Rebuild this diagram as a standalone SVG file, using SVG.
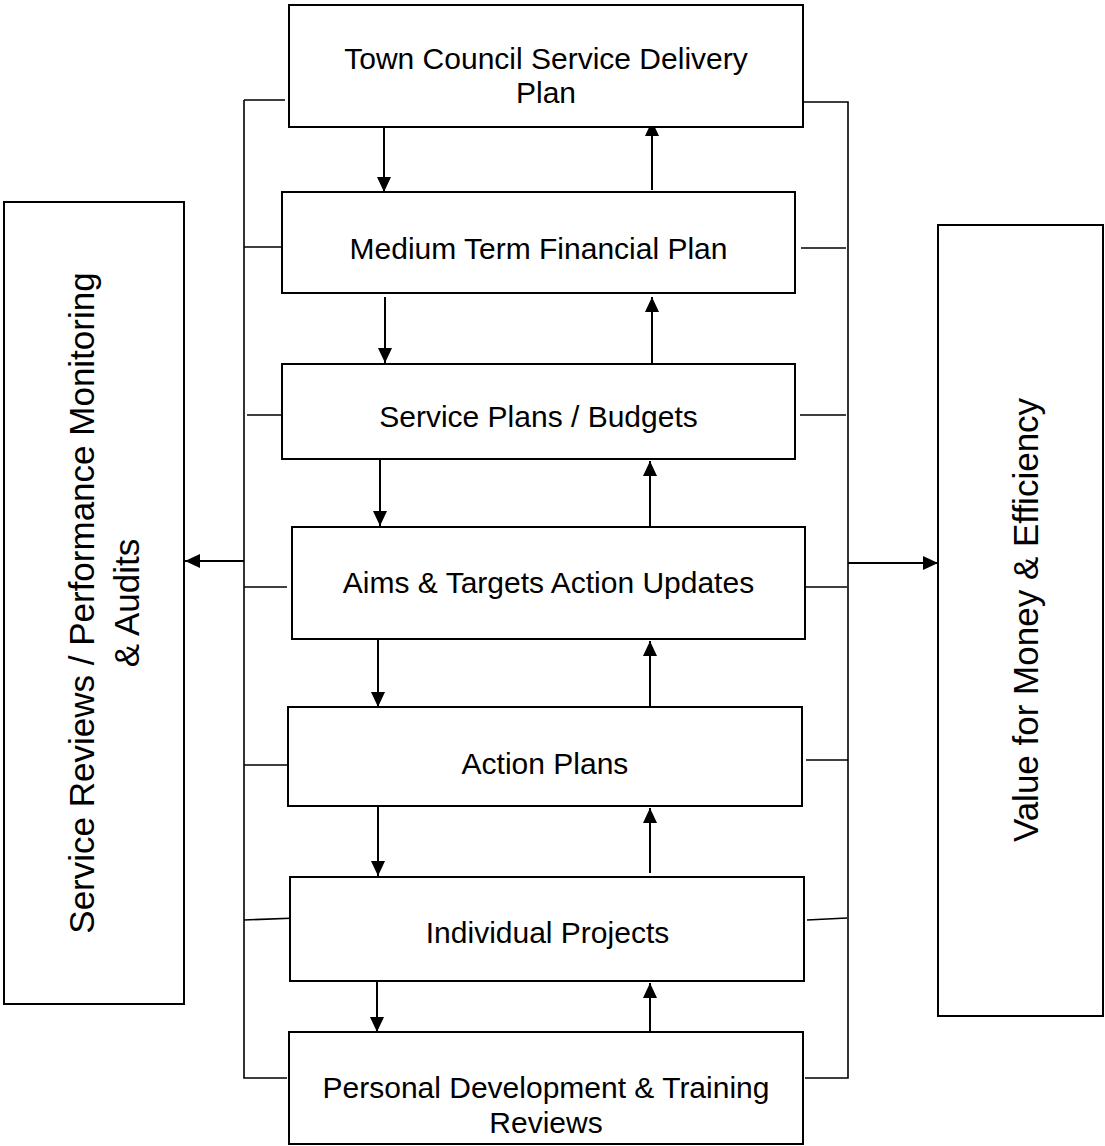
<svg xmlns="http://www.w3.org/2000/svg" width="1105" height="1146" viewBox="0 0 1105 1146">
<style>
.box{fill:#fff;stroke:#000;stroke-width:2}
.t{font-family:"Liberation Sans",Arial,sans-serif;font-size:30px;fill:#000;text-anchor:middle}
.s{font-family:"Liberation Sans",Arial,sans-serif;font-size:35px;fill:#000;text-anchor:middle}
.ln{fill:none;stroke:#000;stroke-width:1.6}
.ar{fill:none;stroke:#000;stroke-width:2;marker-end:url(#ah)}
</style>
<defs>
<marker id="ah" markerUnits="userSpaceOnUse" markerWidth="15" markerHeight="14" refX="15" refY="7" orient="auto">
<path d="M0,0 L15,7 L0,14 z" fill="#000"/>
</marker>
</defs>
<rect width="1105" height="1146" fill="#fff"/>
<g id="connectors">
<path class="ln" d="M244,100 H285 M244,100 V1078 H287"/>
<path class="ln" d="M803,102 H848 V1078 H805"/>
<path class="ln" d="M244,247 H282 M247,415 H285 M244,587 H287 M244,765 H288 M244,920 L297,918"/>
<path class="ln" d="M801,248 H846 M800,415 H846 M803,587 H847 M806,760 H848 M807,920 L847,918"/>
<line class="ar" x1="244" y1="561" x2="185" y2="561"/>
<line class="ar" x1="848" y1="563" x2="938" y2="563"/>
<line class="ar" x1="384" y1="127" x2="384" y2="192"/>
<line class="ar" x1="385" y1="297" x2="385" y2="363"/>
<line class="ar" x1="380" y1="459" x2="380" y2="526"/>
<line class="ar" x1="378" y1="639" x2="378" y2="707"/>
<line class="ar" x1="378" y1="807" x2="378" y2="876"/>
<line class="ar" x1="377" y1="979" x2="377" y2="1032"/>
<line class="ar" x1="652" y1="190" x2="652" y2="121"/>
<line class="ar" x1="652" y1="364" x2="652" y2="297"/>
<line class="ar" x1="650" y1="527" x2="650" y2="461"/>
<line class="ar" x1="650" y1="707" x2="650" y2="641"/>
<line class="ar" x1="650" y1="873" x2="650" y2="808"/>
<line class="ar" x1="650" y1="1032" x2="650" y2="983"/>
</g>
<g id="n1"><rect class="box" x="289" y="5" width="514" height="122"/><text class="t" x="546" y="69">Town Council Service Delivery</text><text class="t" x="546" y="103">Plan</text></g>
<g id="n2"><rect class="box" x="282" y="192" width="513" height="101"/><text class="t" x="538.5" y="259">Medium Term Financial Plan</text></g>
<g id="n3"><rect class="box" x="282" y="364" width="513" height="95"/><text class="t" x="538.5" y="427">Service Plans / Budgets</text></g>
<g id="n4"><rect class="box" x="292" y="527" width="513" height="112"/><text class="t" x="548.5" y="593">Aims &amp; Targets Action Updates</text></g>
<g id="n5"><rect class="box" x="288" y="707" width="514" height="99"/><text class="t" x="545" y="774">Action Plans</text></g>
<g id="n6"><rect class="box" x="290" y="877" width="514" height="104"/><text class="t" x="547.5" y="943">Individual Projects</text></g>
<g id="n7"><rect class="box" x="289" y="1032" width="514" height="112"/><text class="t" x="546" y="1098">Personal Development &amp; Training</text><text class="t" x="546" y="1133">Reviews</text></g>
<g id="left"><rect class="box" x="4" y="202" width="180" height="802"/><g transform="translate(0,603) rotate(-90)"><text class="s" x="0" y="94">Service Reviews / Performance Monitoring</text><text class="s" x="0" y="139">&amp; Audits</text></g></g>
<g id="right"><rect class="box" x="938" y="225" width="165" height="791"/><text class="s" transform="translate(1038,620) rotate(-90)" x="0" y="0">Value for Money &amp; Efficiency</text></g>
</svg>
